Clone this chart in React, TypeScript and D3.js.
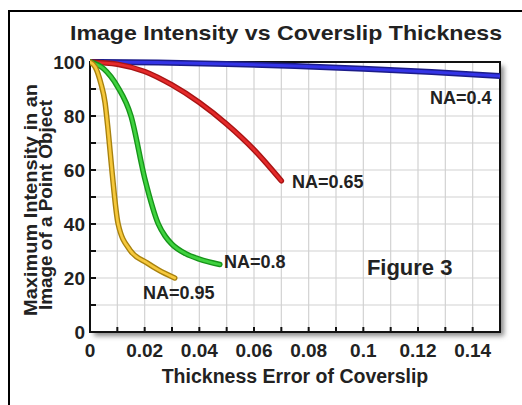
import * as d3 from "d3";
import React from "react";

// readings: thickness error (x) and max intensity (y)
const na04X = [0, 0.025, 0.05, 0.075, 0.1, 0.125, 0.15];
const na04Y = [100, 99.8, 99.3, 98.5, 97.5, 96.3, 94.8];

const na065X = [0, 0.01, 0.02, 0.03, 0.04, 0.05, 0.06, 0.07];
const na065Y = [100, 99.2, 96.5, 91.5, 85, 77, 67.5, 56];

const na08X = [0, 0.005, 0.01, 0.015, 0.02, 0.025, 0.0275, 0.03, 0.035, 0.04, 0.0475];
const na08Y = [100, 97.5, 91, 80, 57, 40, 35.5, 32.5, 29, 27, 25];

const na095X = [0, 0.002, 0.004, 0.0055, 0.0066, 0.008, 0.0103, 0.0146, 0.021, 0.025, 0.031];
const na095Y = [100, 98, 92, 85, 75, 60, 40, 30.4, 25.5, 23, 20];

const xTickLabels = [0, 0.02, 0.04, 0.06, 0.08, 0.1, 0.12, 0.14];
const yTickLabels = [0, 20, 40, 60, 80, 100];

const seriesNames = ["NA=0.4", "NA=0.65", "NA=0.8", "NA=0.95"];

const FONT = "'Liberation Sans', Arial, Helvetica, sans-serif";

export default function App() {
  const margin = { left: 90, top: 62, right: 22, bottom: 73 };
  const W = 522;
  const H = 405;
  const x = d3.scaleLinear().domain([0, 0.15]).range([margin.left, W - margin.right]);
  const y = d3.scaleLinear().domain([0, 100]).range([H - margin.bottom, margin.top]);

  const series = [
    { xs: na04X, ys: na04Y, dark: "#1c1c8a", light: "#3434e6", w: 6 },
    { xs: na065X, ys: na065Y, dark: "#a81414", light: "#e42a2a", w: 5.5 },
    { xs: na08X, ys: na08Y, dark: "#17941a", light: "#3fd23f", w: 5.5 },
    { xs: na095X, ys: na095Y, dark: "#a8820e", light: "#f6c83c", w: 5.5 },
  ];

  // label anchors in data space (x, baseline y)
  const labelPos = [
    [0.1244, 84.4],
    [0.0739, 53.3],
    [0.049, 23.7],
    [0.0194, 12.2],
  ];

  const line = d3
    .line<[number, number]>()
    .curve(d3.curveMonotoneX)
    .x((d) => x(d[0]))
    .y((d) => y(d[1]));

  const gridX = d3.range(1, 15).map((i) => i / 100);
  const gridY = d3.range(1, 10).map((i) => i * 10);

  const left = x(0);
  const right = x(0.15);
  const bottom = y(0);
  const top = y(100);

  return (
    <div style={{ position: "fixed", left: 0, top: 0 }}>
      <svg width={W} height={H} style={{ display: "block", background: "#fff" }}>
        <defs>
          <filter id="blur" x="-10%" y="-10%" width="130%" height="130%">
            <feGaussianBlur stdDeviation="2.5" />
          </filter>
          <clipPath id="plotClip">
            <rect x={left} y={top - 4} width={right - left} height={bottom - top + 4} />
          </clipPath>
        </defs>

        {/* outer frame */}
        <path d={`M9,${H} V11 H${W}`} fill="none" stroke="#000" strokeWidth={2} />

        <text
          x={70}
          y={40}
          fontFamily={FONT}
          fontWeight="bold"
          fontSize={21}
          fill="#222"
          textLength={432}
          lengthAdjust="spacingAndGlyphs"
        >
          Image Intensity vs Coverslip Thickness
        </text>

        {/* plot area with drop shadow */}
        <rect x={left + 4} y={top + 4} width={right - left} height={bottom - top} fill="#8a8a8a" filter="url(#blur)" />
        <rect x={left} y={top} width={right - left} height={bottom - top} fill="#fff" />
        <g stroke="#d2d2d2" strokeWidth={1.2} fill="none">
          {gridX.map((v) => (
            <path key={"gx" + v} d={`M${x(v)},${top}V${bottom}`} />
          ))}
          {gridY.map((v) => (
            <path key={"gy" + v} d={`M${left},${y(v)}H${right}`} />
          ))}
        </g>
        <g stroke="#111" strokeWidth={2}>
          {gridX.map((v) => (
            <path key={"tx" + v} d={`M${x(v)},${bottom}V${bottom - 5}`} />
          ))}
          {gridY.map((v) => (
            <path key={"ty" + v} d={`M${left},${y(v)}H${left + 6}`} />
          ))}
        </g>
        <rect x={left} y={top} width={right - left} height={bottom - top} fill="none" stroke="#111" strokeWidth={2} />

        <g clipPath="url(#plotClip)">
          {series.map((s, i) => {
            const pts = s.xs.map((v, j) => [v, s.ys[j]] as [number, number]);
            const d = line(pts) || "";
            return (
              <g key={i}>
                <path d={d} fill="none" stroke={s.dark} strokeWidth={s.w} strokeLinecap="round" />
                <path d={d} fill="none" stroke={s.light} strokeWidth={s.w / 2} strokeLinecap="round" />
              </g>
            );
          })}
        </g>

        {seriesNames.map((n, i) => (
          <text
            key={n}
            x={x(labelPos[i][0])}
            y={y(labelPos[i][1])}
            fontFamily={FONT}
            fontWeight="bold"
            fontSize={18}
            fill="#222"
          >
            {n}
          </text>
        ))}

        <text x={x(0.1013)} y={y(21.1)} fontFamily={FONT} fontWeight="bold" fontSize={22} fill="#222">
          Figure 3
        </text>

        {yTickLabels.map((v) => (
          <text
            key={"yl" + v}
            x={85}
            y={y(v)}
            dy="0.36em"
            textAnchor="end"
            fontFamily={FONT}
            fontWeight="bold"
            fontSize={19}
            fill="#222"
          >
            {v}
          </text>
        ))}
        {xTickLabels.map((v) => (
          <text
            key={"xl" + v}
            x={x(v)}
            y={357}
            textAnchor="middle"
            fontFamily={FONT}
            fontWeight="bold"
            fontSize={19}
            fill="#222"
          >
            {String(v)}
          </text>
        ))}

        <text
          x={(left + right) / 2}
          y={383}
          textAnchor="middle"
          fontFamily={FONT}
          fontWeight="bold"
          fontSize={19.5}
          fill="#222"
        >
          Thickness Error of Coverslip
        </text>

        <text
          transform={`translate(37,${200}) rotate(-90)`}
          textAnchor="middle"
          fontFamily={FONT}
          fontWeight="bold"
          fontSize={19}
          fill="#222"
          textLength={232}
          lengthAdjust="spacingAndGlyphs"
        >
          Maximum Intensity in an
        </text>
        <text
          transform={`translate(52,${205}) rotate(-90)`}
          textAnchor="middle"
          fontFamily={FONT}
          fontWeight="bold"
          fontSize={19}
          fill="#222"
          textLength={210}
          lengthAdjust="spacingAndGlyphs"
        >
          Image of a Point Object
        </text>
      </svg>
    </div>
  );
}
